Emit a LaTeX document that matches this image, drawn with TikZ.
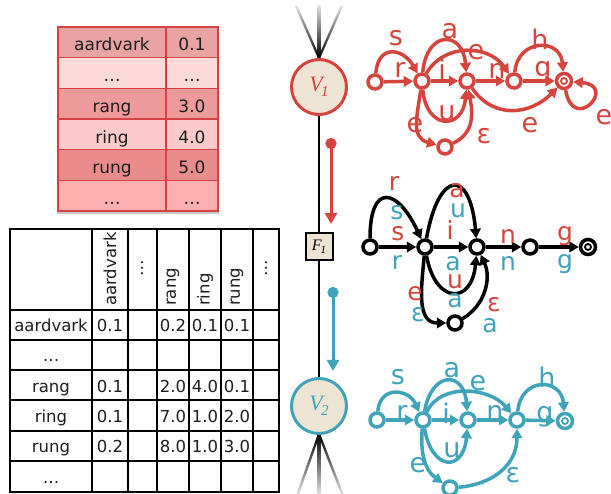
\documentclass[tikz,border=0pt]{standalone}
\usepackage{fontspec}
\setmainfont{DejaVu Sans}
\newfontfamily\varfont{Liberation Serif}
\usetikzlibrary{arrows.meta,calc}
\definecolor{fgred}{RGB}{214,68,62}
\definecolor{fgteal}{RGB}{64,163,185}
\definecolor{vfill}{RGB}{237,228,212}
\definecolor{tabline}{RGB}{212,66,66}
\definecolor{rowA}{RGB}{233,163,163}
\definecolor{rowB}{RGB}{252,218,218}
\definecolor{rowC}{RGB}{236,154,154}
\definecolor{rowD}{RGB}{252,202,202}
\definecolor{rowE}{RGB}{234,140,140}
\definecolor{rowF}{RGB}{254,176,176}
\definecolor{ink}{RGB}{30,30,30}
\begin{document}
\begin{tikzpicture}[x=1pt,y=1pt,
  st/.style={circle,line width=3.5pt,fill=white,minimum size=14pt,inner sep=0pt},
  fin/.style={st,minimum size=15pt},
  tr/.style={line width=3.5pt,-{Triangle[length=9.5pt,width=10.5pt]}},
  lab/.style={inner sep=0pt,font=\fontsize{27}{27}\selectfont},
  mlab/.style={inner sep=0pt,font=\fontsize{25}{25}\selectfont},
  tcell/.style={inner sep=0pt,text=ink,font=\fontsize{17}{17}\selectfont},
  gcell/.style={inner sep=0pt,text=ink,font=\fontsize{16.5}{16.5}\selectfont},
  vnode/.style={circle,line width=3pt,fill=vfill,minimum size=55pt,inner sep=0pt},
  fnode/.style={rectangle,draw=black,line width=2pt,fill=vfill,minimum size=27pt,inner sep=0pt},
  msg/.style={line width=3pt,{Circle[length=11pt]}-{Triangle[length=11pt,width=12pt]}},
]
\useasboundingbox (0,0) rectangle (611,-494);
\fill[white] (0,0) rectangle (611,-494);

% ---------- unary potential table ----------
\fill[black,opacity=0.22] (57,-29) rectangle (219,-214);
\foreach \i/\c in {0/rowA,1/rowB,2/rowC,3/rowD,4/rowE,5/rowF}
  \fill[\c] (58,{-27-30.67*\i}) rectangle (218,{-27-30.67*(\i+1)});
\foreach \i in {1,...,5}
  \draw[tabline,line width=1.3pt] (58,{-27-30.67*\i}) -- (218,{-27-30.67*\i});
\draw[tabline,line width=1.3pt] (166,-27) -- (166,-211);
\draw[tabline,line width=1.5pt] (58,-27) rectangle (218,-211);
\foreach \i/\w/\v in {0/aardvark/0.1,1/…/…,2/rang/3.0,3/ring/4.0,4/rung/5.0,5/…/…}{
  \node[tcell,anchor=base] (uw\i) at (112,{-51-30.67*\i}) {\w};
  \node[tcell,anchor=base] (uv\i) at (192,{-51-30.67*\i}) {\v};
}

% ---------- pairwise potential table ----------
\foreach \x in {10,92,128,157,189,221,253,279}
  \draw[line width=1.5pt] (\x,-229) -- (\x,-492);
\foreach \y in {310,340,370,400,431,461}
  \draw[line width=1.5pt] (10,-\y) -- (279,-\y);
\draw[line width=1.5pt] (10,-229) rectangle (279,-492);
\foreach \x/\w [count=\k] in {110/aardvark,173/rang,205/ring,237/rung}
  \node[gcell,rotate=90,anchor=west] (ph\k) at (\x,-306) {\w};
\node[gcell,rotate=90] (phd1) at (142,-268) {…};
\node[gcell,rotate=90] (phd2) at (266,-268) {…};
\foreach \i/\w/\a/\b/\c/\d in {0/aardvark/0.1/0.2/0.1/0.1,1/…/ / / / ,2/rang/0.1/2.0/4.0/0.1,3/ring/0.1/7.0/1.0/2.0,4/rung/0.2/8.0/1.0/3.0,5/…/ / / / }{
  \node[gcell,anchor=base] (pr\i) at (51,{-331.5-30.3*\i}) {\w};
  \node[gcell,anchor=base] (pa\i) at (110,{-331.5-30.3*\i}) {\a};
  \node[gcell,anchor=base] (pb\i) at (173,{-331.5-30.3*\i}) {\b};
  \node[gcell,anchor=base] (pc\i) at (205,{-331.5-30.3*\i}) {\c};
  \node[gcell,anchor=base] (pd\i) at (237,{-331.5-30.3*\i}) {\d};
}

% ---------- factor graph ----------
\shade[top color=black!12,bottom color=black] (294.8,-6) -- (297.6,-6) -- (320.2,-58) -- (317.8,-58) -- cycle;
\shade[top color=black!12,bottom color=black] (340.4,-6) -- (343.2,-6) -- (320.2,-58) -- (317.8,-58) -- cycle;
\shade[top color=black!12,bottom color=black] (317.7,-6) -- (320.3,-6) -- (320.3,-58) -- (317.7,-58) -- cycle;
\shade[top color=black,bottom color=black!12] (317.8,-434) -- (320.2,-434) -- (299.2,-494) -- (296.4,-494) -- cycle;
\shade[top color=black,bottom color=black!12] (317.8,-434) -- (320.2,-434) -- (343.6,-494) -- (340.8,-494) -- cycle;
\shade[top color=black,bottom color=black!12] (317.7,-434) -- (320.3,-434) -- (320.3,-494) -- (317.7,-494) -- cycle;

\node[vnode,draw=fgred,text=fgred] (V1) at (319,-87)
  {\varfont\itshape\fontsize{22}{22}\selectfont V\kern-1.5pt\raisebox{-4.5pt}{\fontsize{15}{15}\selectfont 1}};
\node[fnode] (F1) at (319,-247)
  {\varfont\itshape\fontsize{16}{16}\selectfont F\kern-1pt\raisebox{-3pt}{\fontsize{11}{11}\selectfont 1}};
\node[vnode,draw=fgteal,text=fgteal] (V2) at (319,-406)
  {\varfont\itshape\fontsize{22}{22}\selectfont V\kern-1.5pt\raisebox{-4.5pt}{\fontsize{15}{15}\selectfont 2}};
\draw[line width=2.8pt] (V1) -- (F1) -- (V2);

\coordinate (m1s) at (331,-138); \coordinate (m1e) at (331,-224);
\coordinate (m2s) at (333,-287); \coordinate (m2e) at (333,-371);
\draw[msg,fgred] (m1s) -- (m1e);
\draw[msg,fgteal] (m2s) -- (m2e);

% ---------- red automaton ----------
\begin{scope}[fgred]
\node[st,draw=fgred] (a0) at (375,-82) {};
\node[st,draw=fgred] (a1) at (422,-81) {};
\node[st,draw=fgred] (a2) at (467,-81) {};
\node[st,draw=fgred] (a3) at (514,-81) {};
\node[fin,draw=fgred] (a4) at (564,-81) {};
\node[st,draw=fgred] (a5) at (445,-147) {};
\draw[line width=1.8pt] (a4) circle (3pt);
\draw[tr] (a0) -- (a1);
\draw[tr] (a0) to[out=85,in=120,looseness=1.8] (a1);
\draw[tr] (a1) -- (a2);
\draw[tr] (a1) to[out=85,in=95,looseness=2.5] (a2);
\draw[tr] (a1) to[out=-85,in=-95,looseness=2.4] (a2);
\draw[tr] (a1) to[out=60,in=125,looseness=1.1] (a3);
\draw[tr] (a2) -- (a3);
\draw[tr] (a3) -- (a4);
\draw[tr] (a3) to[out=85,in=95,looseness=1.8] (a4);
\draw[tr] (a2) to[out=-55,in=-135,looseness=1.15] (a4);
\draw[tr] (a4) to[out=-80,in=-5,looseness=1,min distance=45pt] (a4);
\draw[tr] (a1) to[out=-98,in=165,looseness=1.2] (a5);
\draw[tr] (a5) to[out=25,in=-80,looseness=1.1] (a2);
\node[lab] (la1) at (396,-38) {s};
\node[lab] (la2) at (400,-70) {r};
\node[lab] (la3) at (450,-31) {a};
\node[lab] (la4) at (442,-69) {i};
\node[lab] (la5) at (476,-52) {e};
\node[lab] (la6) at (497,-71) {n};
\node[lab] (la7) at (540,-39) {h};
\node[lab] (la8) at (543,-72) {g};
\node[lab] (la9) at (447,-113) {u};
\node[lab] (la10) at (415,-125) {e};
\node[lab] (la11) at (484,-136) {ε};
\node[lab] (la12) at (530,-125) {e};
\node[lab] (la13) at (604,-117) {e};
\end{scope}

% ---------- intersection automaton ----------
\node[st,draw=black] (b0) at (370,-247) {};
\node[st,draw=black] (b1) at (425,-247) {};
\node[st,draw=black] (b2) at (477,-247) {};
\node[st,draw=black] (b3) at (530,-247) {};
\node[fin,draw=black] (b4) at (588,-247) {};
\node[st,draw=black] (b5) at (455,-323) {};
\draw[line width=1.8pt] (b4) circle (3pt);
\draw[tr] (b0) to[out=90,in=115,looseness=2.8] (b1);
\draw[tr] (b0) -- (b1);
\draw[tr] (b1) -- (b2);
\draw[tr] (b1) to[out=80,in=95,looseness=3.6] (b2);
\draw[tr] (b1) to[out=-80,in=-95,looseness=2.55] (b2);
\draw[tr] (b1) to[out=-95,in=180,looseness=1.1] (b5);
\draw[tr] (b5) to[out=30,in=-65,looseness=1] (b2);
\draw[tr] (b2) -- (b3);
\draw[tr] (b3) -- (b4);
\begin{scope}[fgred]
\node[mlab] (lb1) at (394,-184) {r};
\node[mlab] (lb2) at (398,-234) {s};
\node[mlab] (lb3) at (457,-191) {a};
\node[mlab] (lb4) at (450,-230) {i};
\node[mlab] (lb5) at (455,-282) {u};
\node[mlab] (lb6) at (415,-294) {e};
\node[mlab] (lb7) at (494,-305) {ε};
\node[mlab] (lb8) at (508,-237) {n};
\node[mlab] (lb9) at (565,-236) {g};
\end{scope}
\begin{scope}[fgteal]
\node[mlab] (lc1) at (397,-213) {s};
\node[mlab] (lc2) at (397,-263) {r};
\node[mlab] (lc3) at (458,-211) {u};
\node[mlab] (lc4) at (453,-264) {a};
\node[mlab] (lc5) at (455,-301) {a};
\node[mlab] (lc6) at (418,-315) {ε};
\node[mlab] (lc7) at (490,-326) {a};
\node[mlab] (lc8) at (508,-264) {n};
\node[mlab] (lc9) at (565,-264) {g};
\end{scope}

% ---------- teal automaton ----------
\begin{scope}[fgteal]
\node[st,draw=fgteal] (c0) at (377,-420) {};
\node[st,draw=fgteal] (c1) at (423,-420) {};
\node[st,draw=fgteal] (c2) at (468,-420) {};
\node[st,draw=fgteal] (c3) at (517,-420) {};
\node[fin,draw=fgteal] (c4) at (565,-421) {};
\node[st,draw=fgteal] (c5) at (450,-488) {};
\draw[line width=1.8pt] (c4) circle (3pt);
\draw[tr] (c0) -- (c1);
\draw[tr] (c0) to[out=85,in=115,looseness=1.6] (c1);
\draw[tr] (c1) -- (c2);
\draw[tr] (c1) to[out=80,in=95,looseness=2.45] (c2);
\draw[tr] (c1) to[out=-80,in=-95,looseness=2.6] (c2);
\draw[tr] (c1) to[out=65,in=130,looseness=1] (c3);
\draw[tr] (c2) -- (c3);
\draw[tr] (c3) -- (c4);
\draw[tr] (c3) to[out=85,in=95,looseness=1.9] (c4);
\draw[tr] (c1) to[out=-95,in=145,looseness=1] (c5);
\draw[tr] (c5) to[out=5,in=-90,looseness=1.1] (c3);
\node[lab] (ld1) at (398,-377) {s};
\node[lab] (ld2) at (402,-413) {r};
\node[lab] (ld3) at (452,-370) {a};
\node[lab] (ld4) at (446,-413) {i};
\node[lab] (ld5) at (478,-383) {e};
\node[lab] (ld6) at (495,-413) {n};
\node[lab] (ld7) at (547,-377) {h};
\node[lab] (ld8) at (545,-417) {g};
\node[lab] (ld9) at (452,-450) {u};
\node[lab] (ld10) at (418,-465) {e};
\node[lab] (ld11) at (513,-475) {ε};
\end{scope}
\end{tikzpicture}
\end{document}
